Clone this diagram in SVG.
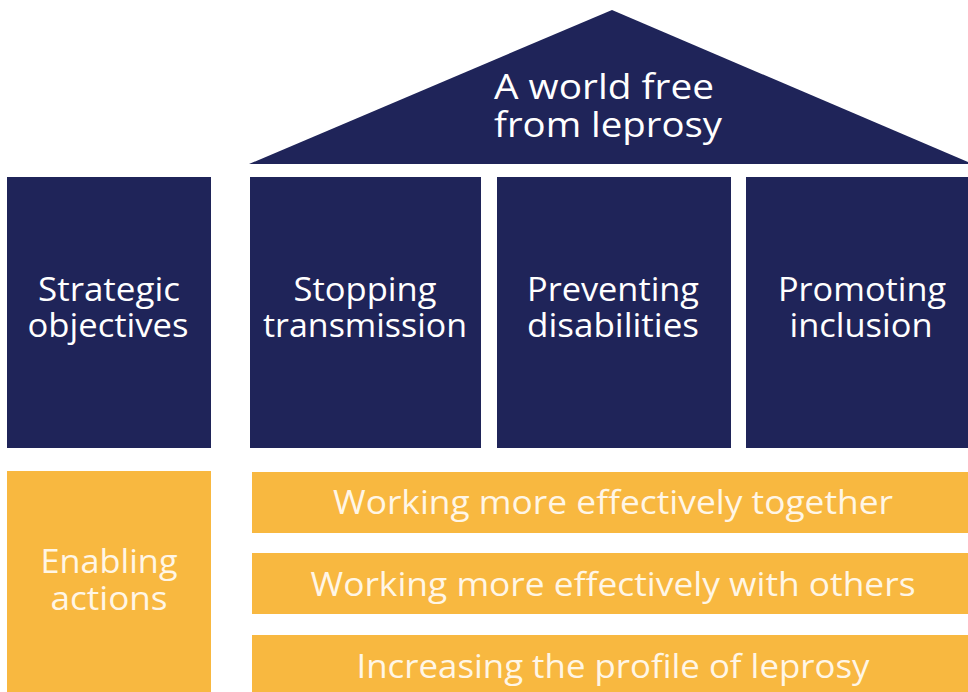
<svg xmlns="http://www.w3.org/2000/svg" width="968" height="692" viewBox="0 0 968 692">
<style>
.navy{fill:#1f2459}
.gold{fill:#f8b840}
.t{font-family:"Open Sans","Noto Sans","Liberation Sans",sans-serif;fill:#ffffff;text-anchor:middle}
.big{font-size:35px}
.mid{font-size:33px}
.bar{font-size:32px;fill:#fff6e6}
</style>
<rect width="968" height="692" fill="#ffffff"/>
<g id="roof">
<polygon class="navy" points="249,164 612,10 968,162 968,164"/>
<text class="t big" x="604" y="99" textLength="220" lengthAdjust="spacingAndGlyphs">A world free</text>
<text class="t big" x="608" y="137" textLength="228" lengthAdjust="spacingAndGlyphs">from leprosy</text>
</g>
<g id="strategic-objectives">
<rect class="navy" x="7" y="177" width="204" height="271"/>
<text class="t mid" x="109" y="301" textLength="142" lengthAdjust="spacingAndGlyphs">Strategic</text>
<text class="t mid" x="108" y="337" textLength="161" lengthAdjust="spacingAndGlyphs">objectives</text>
</g>
<g id="stopping-transmission">
<rect class="navy" x="250" y="177" width="231" height="271"/>
<text class="t mid" x="365" y="301" textLength="143" lengthAdjust="spacingAndGlyphs">Stopping</text>
<text class="t mid" x="365" y="337" textLength="204" lengthAdjust="spacingAndGlyphs">transmission</text>
</g>
<g id="preventing-disabilities">
<rect class="navy" x="497" y="177" width="234" height="271"/>
<text class="t mid" x="613" y="301" textLength="172" lengthAdjust="spacingAndGlyphs">Preventing</text>
<text class="t mid" x="613" y="337" textLength="172" lengthAdjust="spacingAndGlyphs">disabilities</text>
</g>
<g id="promoting-inclusion">
<rect class="navy" x="746" y="177" width="222" height="271"/>
<text class="t mid" x="862" y="301" textLength="168" lengthAdjust="spacingAndGlyphs">Promoting</text>
<text class="t mid" x="861" y="337" textLength="143" lengthAdjust="spacingAndGlyphs">inclusion</text>
</g>
<g id="enabling-actions">
<rect class="gold" x="7" y="471" width="204" height="221"/>
<text class="t mid" x="109" y="573" textLength="137" lengthAdjust="spacingAndGlyphs" style="fill:#fff6e6">Enabling</text>
<text class="t mid" x="109" y="610" textLength="117" lengthAdjust="spacingAndGlyphs" style="fill:#fff6e6">actions</text>
</g>
<g id="working-together">
<rect class="gold" x="252" y="472" width="716" height="61"/>
<text class="t bar" x="613" y="514" textLength="560" lengthAdjust="spacingAndGlyphs">Working more effectively together</text>
</g>
<g id="working-with-others">
<rect class="gold" x="252" y="553" width="716" height="61"/>
<text class="t bar" x="613" y="596" textLength="605" lengthAdjust="spacingAndGlyphs">Working more effectively with others</text>
</g>
<g id="increasing-profile">
<rect class="gold" x="252" y="635" width="716" height="57"/>
<text class="t bar" x="613" y="678" textLength="513" lengthAdjust="spacingAndGlyphs">Increasing the profile of leprosy</text>
</g>
<g id="connectors"></g>
</svg>
